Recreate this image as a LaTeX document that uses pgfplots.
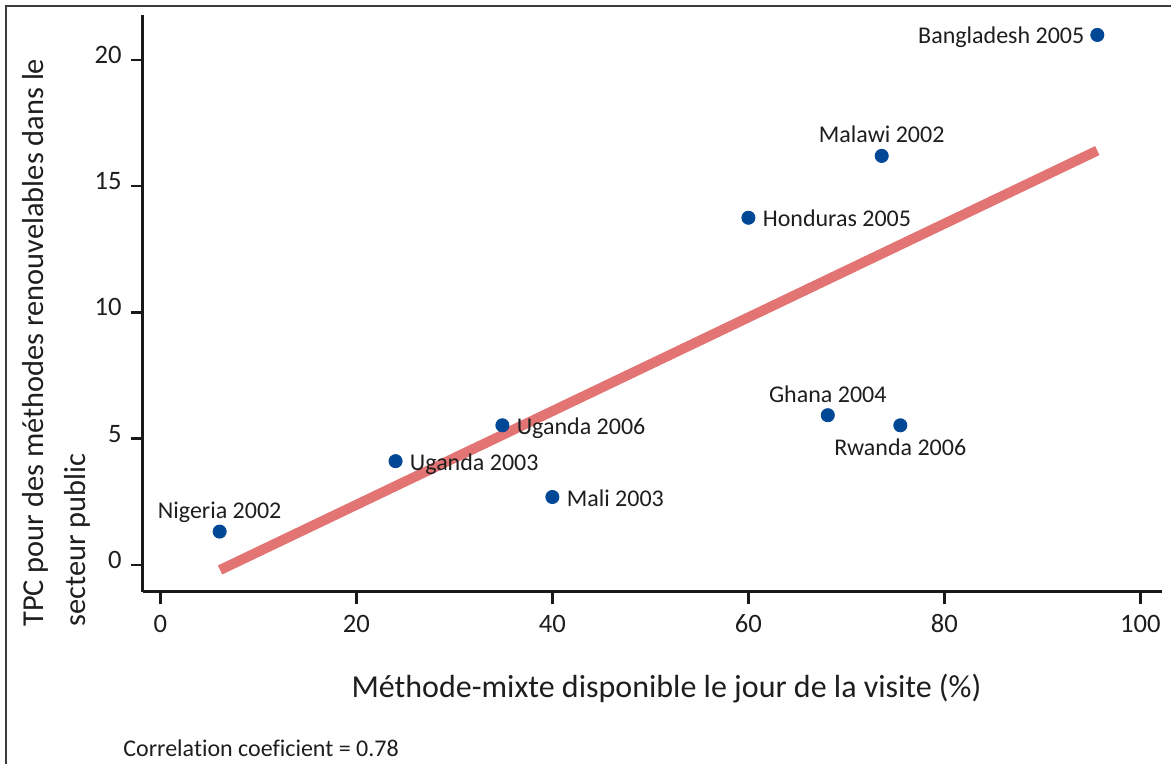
\documentclass[border=0pt]{standalone}
\usepackage{fontspec}
\setmainfont{Carlito}[RawFeature=-liga]
\usepackage{pgfplots}
\pgfplotsset{compat=1.18}
\definecolor{dotblue}{RGB}{0,72,150}
\definecolor{trend}{RGB}{226,116,116}
\definecolor{framegray}{RGB}{60,60,60}
\definecolor{txt}{RGB}{30,30,30}

\pgfplotsset{lbl/.style={only marks, mark=none, point meta=explicit symbolic, nodes near coords,
    every node near coord/.append style={inner sep=0pt, font=\fontsize{12}{14}\selectfont, text=txt}}}

\begin{document}
\begin{tikzpicture}
\useasboundingbox (0,0) rectangle (585.5pt,-382pt);
\draw[framegray, line width=1pt] (3pt,-382pt) -- (3pt,-3pt) -- (585.5pt,-3pt);
\begin{axis}[
  at={(71.35pt,-295.85pt)}, anchor=south west,
  scale only axis, width=509.65pt, height=288.35pt,
  xmin=-1.8, xmax=102.2, ymin=-1.06, ymax=21.78,
  axis lines=left, axis line style={-, line width=1.5pt, black!90},
  xtick={0,20,...,100}, ytick={0,5,...,20},
  tick align=outside, major tick length=6pt,
  tick style={line width=1.2pt, black!90},
  tick label style={font=\fontsize{13.3}{15}\selectfont, text=txt},
  /pgf/number format/assume math mode=true,
  xticklabel style={yshift=-2pt},
  yticklabel style={xshift=-1pt, yshift=2.5pt},
  clip=false,
]
% trend line
\addplot[trend, line width=5pt, line cap=butt] coordinates {(6.09,-0.2) (95.6,16.41)};
% data points
\addplot[only marks, mark=*, mark size=3.3pt, mark options={fill=dotblue, draw=dotblue}] coordinates {
  (6.05,1.32) (24.0,4.11) (34.9,5.53) (40.0,2.69) (60.0,13.75)
  (68.1,5.93) (75.5,5.53) (73.6,16.20) (95.6,20.99)};
% labels above
\addplot[lbl, every node near coord/.append style={anchor=base, yshift=6.5pt}] coordinates {
  (6.05,1.32) [Nigeria 2002] (68.1,5.93) [Ghana 2004] (73.6,16.20) [Malawi 2002]};
% labels right
\addplot[lbl, every node near coord/.append style={anchor=base west, xshift=7pt, yshift=-4.5pt}] coordinates {
  (24.0,4.11) [Uganda 2003] (34.9,5.53) [Uganda 2006] (40.0,2.69) [Mali 2003] (60.0,13.75) [Honduras 2005]};
% label below
\addplot[lbl, every node near coord/.append style={anchor=base, yshift=-15pt}] coordinates {
  (75.5,5.53) [Rwanda 2006]};
% label left
\addplot[lbl, every node near coord/.append style={anchor=base east, xshift=-6.3pt, yshift=-4.5pt}] coordinates {
  (95.6,20.99) [Bangladesh 2005]};
\end{axis}
\node[rotate=90, anchor=base west, inner sep=0pt, font=\fontsize{15.2}{18}\selectfont, text=txt] at (21.5pt,-313.5pt) {TPC pour des méthodes renouvelables dans le};
\node[rotate=90, anchor=base west, inner sep=0pt, font=\fontsize{15.2}{18}\selectfont, text=txt] at (42.5pt,-313.5pt) {secteur public};
\node[anchor=base, inner sep=0pt, font=\fontsize{16}{18}\selectfont, text=txt] at (333.25pt,-348.5pt) {Méthode-mixte disponible le jour de la visite (\%)};
\node[anchor=base west, inner sep=0pt, font=\fontsize{12}{14}\selectfont, text=txt] at (61.5pt,-378pt) {Correlation coeficient = 0.78};
\end{tikzpicture}
\end{document}
